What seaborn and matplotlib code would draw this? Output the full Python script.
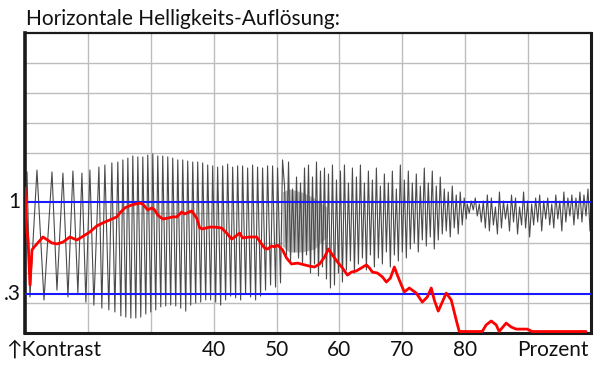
import numpy as np
import pandas as pd
import matplotlib
matplotlib.use("Agg")
import matplotlib.pyplot as plt
import seaborn as sns

# ---------------- data (x in percent, y in chart units 0..10) ----------------
# chirp part of the grey test signal: alternating maxima / minima
wave_chirp_x = [10.32, 10.79, 11.90, 13.02, 14.29, 15.08, 16.03, 16.83, 17.62, 18.41,
                19.05, 19.68, 20.32, 20.95, 21.75, 22.22, 22.70, 23.33, 23.81, 24.29,
                24.76, 25.24, 25.56, 26.03, 26.35, 26.83, 27.14, 27.62, 27.94, 28.41,
                28.73, 29.21, 29.52, 30.00, 30.32, 30.79, 31.11, 31.59, 31.90, 32.38,
                32.70, 33.17, 33.49, 33.97, 34.29, 34.76, 35.08, 35.56, 35.87, 36.35,
                36.67, 37.14, 37.46, 37.94, 38.25, 38.73, 39.05, 39.52, 39.84, 40.32,
                40.63, 41.11, 41.43, 41.90, 42.22, 42.70, 43.02, 43.49, 43.81, 44.29,
                44.60, 45.08, 45.40, 45.87, 46.19, 46.67, 46.98, 47.46, 47.78, 48.25,
                48.57, 49.05, 49.37, 49.84, 50.16, 50.63, 50.95]
wave_chirp_y = [5.37, 1.20, 5.43, 1.10, 5.37, 1.43, 5.33, 1.20, 5.40, 1.33,
                5.33, 1.03, 5.43, 0.93, 5.53, 0.83, 5.60, 0.77, 5.67, 0.70,
                5.70, 0.57, 5.77, 0.53, 5.83, 0.50, 5.90, 0.50, 5.87, 0.53,
                5.87, 0.63, 5.93, 0.70, 5.97, 0.77, 5.90, 0.87, 5.90, 0.90,
                5.87, 0.93, 5.83, 0.90, 5.77, 0.83, 5.77, 0.73, 5.73, 0.93,
                5.70, 1.00, 5.70, 1.03, 5.67, 1.10, 5.60, 1.10, 5.57, 1.03,
                5.53, 0.93, 5.57, 1.10, 5.63, 1.23, 5.53, 1.17, 5.57, 1.10,
                5.57, 1.30, 5.50, 1.20, 5.60, 1.10, 5.53, 1.23, 5.50, 1.43,
                5.57, 1.60, 5.57, 1.53, 5.50, 1.67, 5.77]
# dense part (51 % .. 80 %), sampled maxima / minima
wave_dense_range = (51.27, 80.16)
wave_dense_y = [4.9, 2.6, 5.7, 2.4, 4.8, 2.7, 5.2, 2.5, 5.0, 2.3,
                5.5, 2.6, 5.6, 2.0, 5.2, 2.3, 5.7, 1.9, 5.4, 2.2,
                5.5, 1.8, 5.3, 1.5, 5.6, 1.6, 5.1, 2.0, 5.4, 1.7,
                5.6, 2.1, 5.0, 2.4, 5.5, 2.0, 5.2, 2.3, 5.6, 2.5,
                5.0, 2.1, 5.4, 2.6, 5.1, 2.2, 5.5, 2.5, 4.9, 2.3,
                5.3, 2.7, 5.0, 2.2, 5.4, 2.6, 4.8, 2.4, 5.6, 2.7,
                5.1, 2.5, 5.4, 2.8, 5.0, 3.0, 5.3, 2.7, 4.9, 3.1,
                5.5, 2.9, 5.0, 3.2, 5.4, 2.8, 4.9, 3.1, 5.2, 3.3,
                4.8, 3.4, 4.7, 3.2, 4.9, 3.5, 4.6, 3.3, 4.7, 3.6,
                4.5, 3.8]
# light grey aliasing band behind the dense part
band_x = [50.9, 52.0, 54.0, 56.0, 58.0]
band_lo = [2.9, 2.7, 2.7, 2.8, 3.2]
band_hi = [4.7, 4.8, 4.7, 4.5, 4.2]
# noisy tail (80 % .. 100 %)
wave_noise_range = (80.32, 99.84)
wave_noise_y = [4.3, 4.0, 4.4, 4.1, 4.5, 3.9, 4.3, 3.7, 4.4, 3.5,
                4.6, 3.4, 4.5, 3.6, 4.2, 3.3, 4.7, 3.5, 4.4, 3.8,
                4.3, 3.4, 4.6, 3.7, 4.5, 3.3, 4.2, 3.6, 4.7, 3.5,
                4.4, 3.2, 4.3, 3.6, 4.5, 3.7, 4.6, 3.4, 4.4, 3.8,
                4.5, 3.6, 4.3, 3.5, 4.6, 3.8, 4.4, 3.4, 4.7, 3.7,
                4.5, 3.9, 4.6, 3.6, 4.5, 3.8, 4.7, 3.7, 4.6, 3.9,
                4.8, 3.4]

# red measured resolution curve
red_x = [10.00, 10.32, 10.48, 10.79, 11.11, 11.59, 12.86, 14.29, 15.08, 16.03,
         17.14, 18.25, 19.05, 20.32, 21.43, 22.38, 23.49, 24.60, 25.08, 25.87,
         26.98, 28.25, 28.73, 29.52, 30.16, 30.63, 31.11, 31.90, 32.70, 33.49,
         34.13, 34.92, 35.40, 36.51, 37.30, 37.78, 38.25, 39.37, 40.16, 41.27,
         42.06, 42.86, 43.33, 44.13, 44.60, 45.71, 46.83, 48.10, 48.57, 49.21,
         49.68, 50.16, 50.95, 51.59, 52.38, 53.33, 54.44, 55.24, 56.03, 56.83,
         57.62, 58.25, 58.89, 59.68, 60.48, 61.27, 61.90, 62.70, 63.49, 64.29,
         64.76, 65.24, 66.03, 66.83, 67.46, 68.10, 68.73, 69.21, 69.84, 70.32,
         71.11, 72.22, 73.17, 73.97, 74.60, 75.08, 75.71, 76.35, 76.98, 77.78,
         78.57, 79.05, 82.70, 83.33, 84.13, 84.92, 85.40, 85.87, 86.51, 87.30,
         88.10, 88.89, 89.84, 90.63, 99.21]
red_y = [4.83, 3.37, 3.10, 1.60, 2.77, 2.90, 3.20, 3.00, 2.97, 3.03,
         3.20, 3.10, 3.20, 3.37, 3.57, 3.67, 3.77, 3.87, 4.00, 4.17,
         4.27, 4.33, 4.30, 4.10, 4.17, 4.10, 3.93, 3.80, 3.83, 3.87,
         3.87, 4.03, 3.97, 4.07, 3.83, 3.50, 3.47, 3.53, 3.53, 3.50,
         3.33, 3.13, 3.20, 3.33, 3.17, 3.20, 3.20, 2.83, 2.80, 2.90,
         2.87, 2.93, 2.77, 2.50, 2.30, 2.33, 2.27, 2.23, 2.20, 2.30,
         2.53, 2.80, 2.60, 2.37, 2.17, 1.93, 2.03, 2.07, 2.17, 2.27,
         2.17, 2.03, 2.00, 1.87, 1.70, 1.83, 2.20, 1.93, 1.60, 1.37,
         1.50, 1.33, 1.03, 1.20, 1.50, 1.10, 0.73, 1.03, 1.33, 1.10,
         0.43, 0.05, 0.05, 0.27, 0.40, 0.27, 0.05, 0.17, 0.33, 0.20,
         0.13, 0.13, 0.13, 0.05, 0.05]

ref_levels = [4.37, 1.30]          # blue reference lines
ref_labels = ["1", ".3"]
x_grid = [20, 30, 40, 50, 60, 70, 80, 90]
x_labels = ["", "", "40", "50", "60", "70", "80", ""]
y_grid = [1, 2, 3, 4, 5, 6, 7, 8, 9]
title = "Horizontale Helligkeits-Auflösung:"
x_left_label = "↑Kontrast"
x_right_label = "Prozent"

# ---------------- build tables ----------------
wave_x = (list(wave_chirp_x)
          + list(np.linspace(*wave_dense_range, len(wave_dense_y)))
          + list(np.linspace(*wave_noise_range, len(wave_noise_y))))
wave_y = list(wave_chirp_y) + list(wave_dense_y) + list(wave_noise_y)
wave_df = pd.DataFrame({"x": wave_x, "y": wave_y})
red_df = pd.DataFrame({"x": red_x, "y": red_y})

# ---------------- plot ----------------
sns.set_style("white")
plt.rcParams["font.family"] = ["Lato", "DejaVu Sans"]
FS = 15

W, H = 600, 376
fig = plt.figure(figsize=(6.0, 3.76), dpi=100)
ax = fig.add_axes([25 / W, 1 - 333 / H, (591 - 25) / W, (333 - 33) / H])

ax.set_xlim(10, 100)
ax.set_ylim(0, 10)
ax.set_xticks(x_grid)
ax.set_xticklabels(x_labels)
ax.set_yticks(y_grid)
ax.set_yticklabels([])
ax.tick_params(length=0, labelsize=FS, pad=5, colors="#111111")
ax.grid(True, color="#bdbdbd", linewidth=1.0)
ax.set_axisbelow(True)

ax.fill_between(band_x, band_lo, band_hi, color="#b8b8b8", linewidth=0,
                zorder=1.5)
sns.lineplot(data=wave_df, x="x", y="y", ax=ax, sort=False, estimator=None,
             color="#4a4a4a", linewidth=0.8, zorder=2)
for lv in ref_levels:
    ax.axhline(lv, color="#1a1aff", linewidth=1.5, zorder=3)
sns.lineplot(data=red_df, x="x", y="y", ax=ax, sort=False, estimator=None,
             color="#ff0000", linewidth=2.0, zorder=4)

ax.set_xlabel("")
ax.set_ylabel("")

for side, lw in [("left", 2.6), ("bottom", 2.2), ("right", 2.2), ("top", 1.6)]:
    ax.spines[side].set_visible(True)
    ax.spines[side].set_color("#1a1a1a")
    ax.spines[side].set_linewidth(lw)

for lv, lab in zip(ref_levels, ref_labels):
    ax.text(-0.008, lv, lab, transform=ax.get_yaxis_transform(), ha="right",
            va="center", fontsize=FS, color="#111111")

fig.text(26 / W, 1 - 19 / H, title, ha="left", va="center", fontsize=FS,
         color="#111111")
fig.text(6 / W, 1 - 350 / H, x_left_label, ha="left", va="center",
         fontsize=FS, color="#111111")
fig.text(589 / W, 1 - 350 / H, x_right_label, ha="right", va="center",
         fontsize=FS, color="#111111")

fig.savefig("out.png", dpi=100)
